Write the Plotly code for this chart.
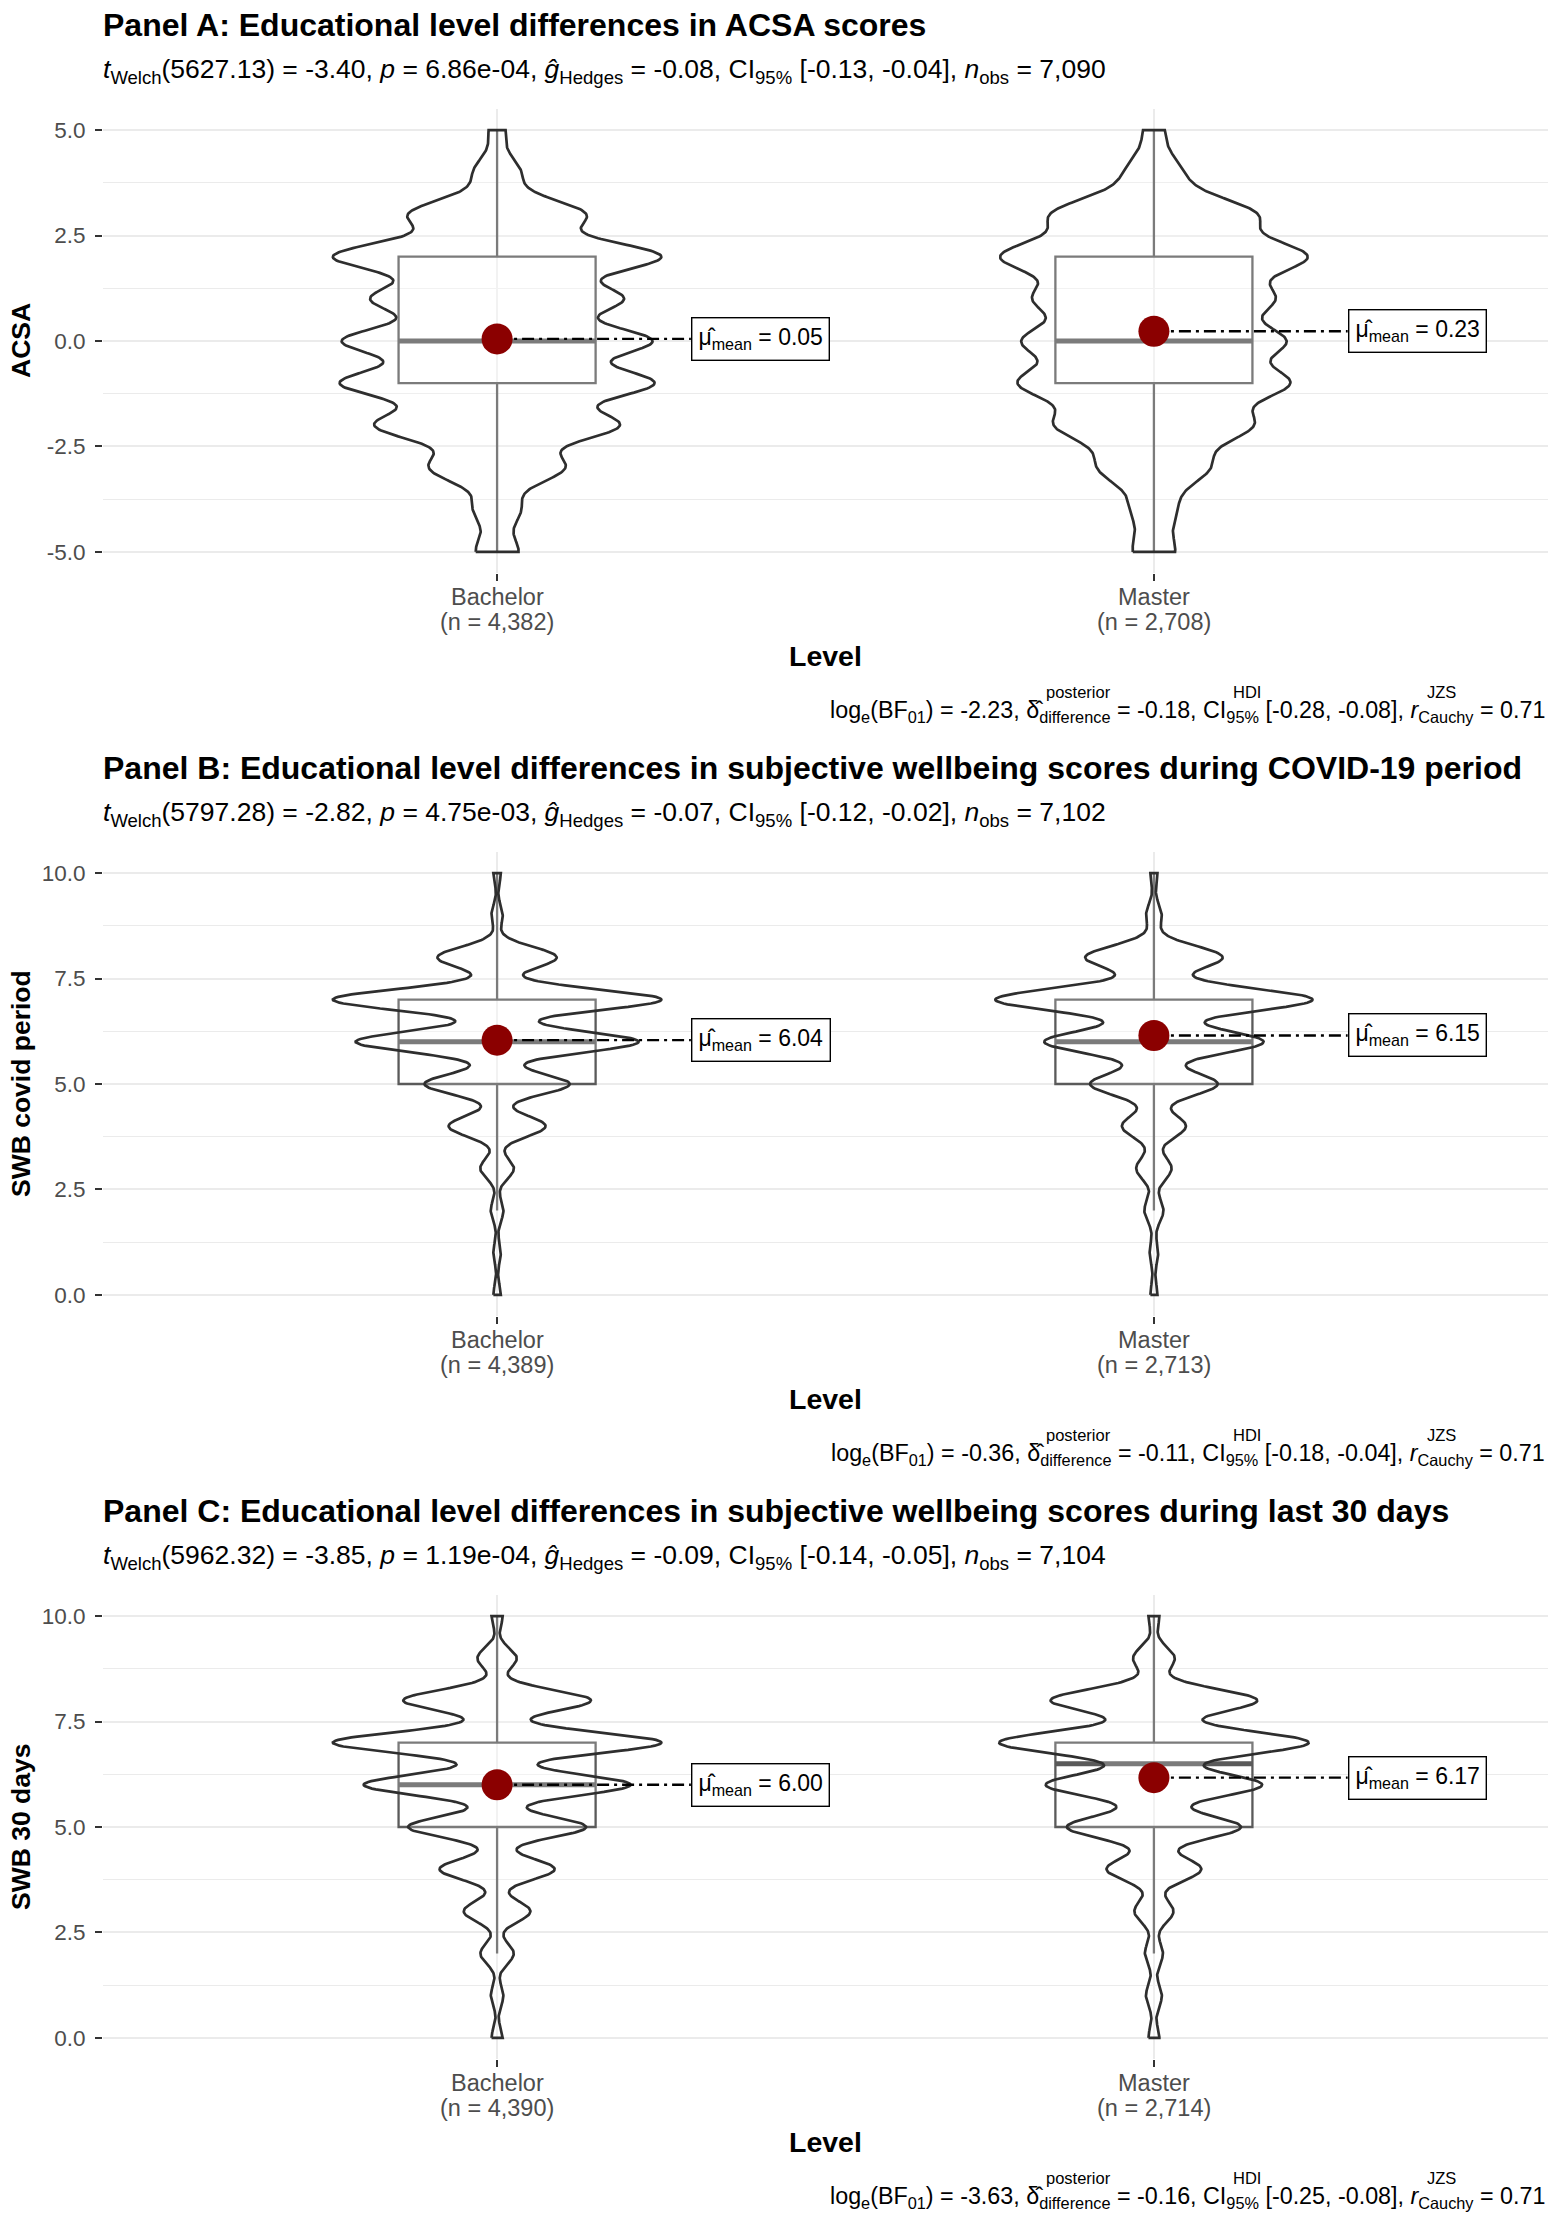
import numpy as np
import plotly.graph_objects as go

W, H = 1559, 2216
FONT = "Liberation Sans, Arial, Helvetica, sans-serif"

# ---------------- data ----------------
group_names = ["Bachelor", "Master"]
group_pos = [1, 2]

# Panel A: ACSA (integer scores -5..5), counts per score
acsa_values = [-5, -4, -3, -2, -1, 0, 1, 2, 3, 4, 5]
acsa_counts_bachelor = [99, 107, 310, 560, 719, 709, 571, 757, 405, 107, 38]
acsa_counts_master = [67, 67, 172, 304, 419, 403, 362, 478, 319, 85, 32]
acsa_n = [4382, 2708]
acsa_mean = [0.05, 0.23]
acsa_q1 = [-1, -1]
acsa_median = [0, 0]
acsa_q3 = [2, 2]
acsa_whisker_low = [-5, -5]
acsa_whisker_high = [5, 5]

# Panel B: SWB covid period (0..10)
swb_values = [0, 1, 2, 3, 4, 5, 6, 7, 8, 9, 10]
covid_counts_bachelor = [31, 31, 53, 140, 404, 605, 1180, 1370, 497, 47, 31]
covid_counts_master = [20, 24, 54, 100, 181, 361, 621, 899, 389, 44, 20]
covid_n = [4389, 2713]
covid_mean = [6.04, 6.15]
covid_q1 = [5, 5]
covid_median = [6, 6]
covid_q3 = [7, 7]
covid_whisker_low = [2, 2]
covid_whisker_high = [10, 10]

# Panel C: SWB 30 days (0..10)
days_counts_bachelor = [39, 44, 117, 234, 404, 625, 937, 1154, 659, 138, 39]
days_counts_master = [26, 38, 43, 93, 226, 415, 516, 739, 493, 99, 26]
days_n = [4390, 2714]
days_mean = [6.00, 6.17]
days_q1 = [5, 5]
days_median = [6, 6.5]
days_q3 = [7, 7]
days_whisker_low = [2, 2]
days_whisker_high = [10, 10]

acsa_ticks = [-5, -2.5, 0, 2.5, 5]
acsa_ticklabels = ["-5.0", "-2.5", "0.0", "2.5", "5.0"]
swb_ticks = [0, 2.5, 5, 7.5, 10]
swb_ticklabels = ["0.0", "2.5", "5.0", "7.5", "10.0"]

titles = [
    "Panel A: Educational level differences in ACSA scores",
    "Panel B: Educational level differences in subjective wellbeing scores during COVID-19 period",
    "Panel C: Educational level differences in subjective wellbeing scores during last 30 days",
]
subtitles = [
    "<i>t</i><sub>Welch</sub>(5627.13) = -3.40, <i>p</i> = 6.86e-04, <i>g\u0302</i><sub>Hedges</sub> = -0.08, CI<sub>95%</sub> [-0.13, -0.04], <i>n</i><sub>obs</sub> = 7,090",
    "<i>t</i><sub>Welch</sub>(5797.28) = -2.82, <i>p</i> = 4.75e-03, <i>g\u0302</i><sub>Hedges</sub> = -0.07, CI<sub>95%</sub> [-0.12, -0.02], <i>n</i><sub>obs</sub> = 7,102",
    "<i>t</i><sub>Welch</sub>(5962.32) = -3.85, <i>p</i> = 1.19e-04, <i>g\u0302</i><sub>Hedges</sub> = -0.09, CI<sub>95%</sub> [-0.14, -0.05], <i>n</i><sub>obs</sub> = 7,104",
]
captions = [
    "log<sub>e</sub>(BF<sub>01</sub>) = -2.23, \u03b4\u0302<sub>difference</sub> = -0.18, CI<sub>95%</sub> [-0.28, -0.08], <i>r</i><sub>Cauchy</sub> = 0.71",
    "log<sub>e</sub>(BF<sub>01</sub>) = -0.36, \u03b4\u0302<sub>difference</sub> = -0.11, CI<sub>95%</sub> [-0.18, -0.04], <i>r</i><sub>Cauchy</sub> = 0.71",
    "log<sub>e</sub>(BF<sub>01</sub>) = -3.63, \u03b4\u0302<sub>difference</sub> = -0.16, CI<sub>95%</sub> [-0.25, -0.08], <i>r</i><sub>Cauchy</sub> = 0.71",
]
caption_sups = ["posterior", "HDI", "JZS"]
y_titles = ["ACSA", "SWB covid period", "SWB 30 days"]
x_title = "Level"

panels = [
    dict(values=acsa_values, counts=[acsa_counts_bachelor, acsa_counts_master], n=acsa_n,
         mean=acsa_mean, q1=acsa_q1, med=acsa_median, q3=acsa_q3,
         lo=acsa_whisker_low, hi=acsa_whisker_high, ticks=acsa_ticks, ticklabels=acsa_ticklabels,
         yrange=[-5.5, 5.5], top=109, bottom=573),
    dict(values=swb_values, counts=[covid_counts_bachelor, covid_counts_master], n=covid_n,
         mean=covid_mean, q1=covid_q1, med=covid_median, q3=covid_q3,
         lo=covid_whisker_low, hi=covid_whisker_high, ticks=swb_ticks, ticklabels=swb_ticklabels,
         yrange=[-0.5, 10.5], top=852, bottom=1316),
    dict(values=swb_values, counts=[days_counts_bachelor, days_counts_master], n=days_n,
         mean=days_mean, q1=days_q1, med=days_median, q3=days_q3,
         lo=days_whisker_low, hi=days_whisker_high, ticks=swb_ticks, ticklabels=swb_ticklabels,
         yrange=[-0.5, 10.5], top=1595, bottom=2059),
]

# ---------------- helpers ----------------
X_LEFT, X_RIGHT = 103, 1548
BOX_W = 0.3
VIOLIN_W = 0.5
LABEL_OFFSET = 0.295
SUP_X = [1044, 1231, 1425]


def px(x):
    return x / W


def py(y):
    return 1 - y / H


def kde(values, counts):
    data = np.repeat(np.asarray(values, float), counts)
    n = data.size
    sd = data.std(ddof=1)
    iqr = np.subtract(*np.percentile(data, [75, 25]))
    bw = 0.9 * min(sd, iqr / 1.34) * n ** -0.2
    grid = np.linspace(data.min(), data.max(), 512)
    v = np.asarray(values, float)
    c = np.asarray(counts, float)
    dens = (c[None, :] * np.exp(-0.5 * ((grid[:, None] - v[None, :]) / bw) ** 2)).sum(1)
    dens /= n * bw * np.sqrt(2 * np.pi)
    return grid, dens


fig = go.Figure()
annotations = []
layout_axes = {}

VIOLIN_COLOR = "#2E2E2E"
BOX_COLOR = "#5A5A5A"
TICK_COLOR = "#4D4D4D"

for i, p in enumerate(panels):
    sfx = "" if i == 0 else str(i + 1)
    xa, ya = "x" + sfx, "y" + sfx

    dens_list = [kde(p["values"], cts) for cts in p["counts"]]
    dmax = max(d.max() for _, d in dens_list)

    for g in range(2):
        c = group_pos[g]
        # box
        fig.add_trace(go.Box(
            x=[c], q1=[p["q1"][g]], median=[p["med"][g]], q3=[p["q3"][g]],
            lowerfence=[p["lo"][g]], upperfence=[p["hi"][g]],
            width=BOX_W, whiskerwidth=0, boxpoints=False,
            line=dict(color=BOX_COLOR, width=2.3), fillcolor="rgba(255,255,255,0.2)",
            xaxis=xa, yaxis=ya, showlegend=False, hoverinfo="skip"))
        # thick median
        fig.add_trace(go.Scatter(
            x=[c - BOX_W / 2, c + BOX_W / 2], y=[p["med"][g]] * 2, mode="lines",
            line=dict(color=BOX_COLOR, width=5), xaxis=xa, yaxis=ya,
            showlegend=False, hoverinfo="skip"))
        # violin
        grid, d = dens_list[g]
        half = (VIOLIN_W / 2) * d / dmax
        vx = np.concatenate([c - half, (c + half)[::-1], [c - half[0]]])
        vy = np.concatenate([grid, grid[::-1], [grid[0]]])
        fig.add_trace(go.Scatter(
            x=vx, y=vy, mode="lines", fill="toself", fillcolor="rgba(255,255,255,0.2)",
            line=dict(color=VIOLIN_COLOR, width=2.7), xaxis=xa, yaxis=ya,
            showlegend=False, hoverinfo="skip"))
        # mean segment
        fig.add_trace(go.Scatter(
            x=[c, c + LABEL_OFFSET], y=[p["mean"][g]] * 2, mode="lines",
            line=dict(color="black", width=2.4, dash="12px,5px,3px,5px"), xaxis=xa, yaxis=ya,
            showlegend=False, hoverinfo="skip"))
        # mean point
        fig.add_trace(go.Scatter(
            x=[c], y=[p["mean"][g]], mode="markers",
            marker=dict(color="#8B0000", size=31), xaxis=xa, yaxis=ya,
            showlegend=False, hoverinfo="skip"))
        # label
        annotations.append(dict(
            x=c + LABEL_OFFSET, y=p["mean"][g], xref=xa, yref=ya,
            xanchor="left", yanchor="middle", showarrow=False,
            text="\u03bc\u0302<sub>mean</sub> = %.2f" % p["mean"][g],
            font=dict(family=FONT, size=23, color="black"),
            bgcolor="white", bordercolor="black", borderwidth=1.4, borderpad=6))
        # category tick labels (two lines)
        annotations.append(dict(
            x=c, y=py(p["bottom"] + 24), xref=xa, yref="paper",
            xanchor="center", yanchor="middle", showarrow=False,
            text=group_names[g], font=dict(family=FONT, size=23.5, color=TICK_COLOR)))
        annotations.append(dict(
            x=c, y=py(p["bottom"] + 49), xref=xa, yref="paper",
            xanchor="center", yanchor="middle", showarrow=False,
            text="(n = %s)" % format(p["n"][g], ","),
            font=dict(family=FONT, size=23.5, color=TICK_COLOR)))

    ydom = [py(p["bottom"]), py(p["top"])]
    layout_axes["xaxis" + sfx] = dict(
        domain=[px(X_LEFT), px(X_RIGHT)], range=[0.4, 2.6], anchor=ya,
        tickvals=group_pos, showticklabels=False,
        ticks="outside", ticklen=7, tickwidth=2, tickcolor="#333333",
        showgrid=True, gridcolor="#EBEBEB", gridwidth=1.6,
        zeroline=False, showline=False, fixedrange=True)
    layout_axes["yaxis" + sfx] = dict(
        domain=ydom, range=p["yrange"], anchor=xa,
        tickvals=p["ticks"], ticktext=p["ticklabels"],
        tickfont=dict(family=FONT, size=22.5, color=TICK_COLOR),
        ticks="outside", ticklen=7, tickwidth=2, tickcolor="#333333",
        ticklabelstandoff=5,
        showgrid=True, gridcolor="#EBEBEB", gridwidth=1.6,
        minor=dict(dtick=1.25, tick0=0, showgrid=True, gridcolor="#EBEBEB", gridwidth=1.1, ticks=""),
        zeroline=False, showline=False, fixedrange=True)

    # title / subtitle
    annotations.append(dict(
        x=px(101), y=py(p["top"] - 84), xref="paper", yref="paper",
        xanchor="left", yanchor="middle", showarrow=False,
        text="<b>%s</b>" % titles[i], font=dict(family=FONT, size=32, color="black")))
    annotations.append(dict(
        x=px(101), y=py(p["top"] - 38), xref="paper", yref="paper",
        xanchor="left", yanchor="middle", showarrow=False,
        text=subtitles[i], font=dict(family=FONT, size=26.5, color="black")))
    # y title
    annotations.append(dict(
        x=px(21), y=(ydom[0] + ydom[1]) / 2, xref="paper", yref="paper",
        xanchor="center", yanchor="middle", showarrow=False, textangle=-90,
        text="<b>%s</b>" % y_titles[i], font=dict(family=FONT, size=26.5, color="black")))
    # x title
    annotations.append(dict(
        x=px((X_LEFT + X_RIGHT) / 2), y=py(p["bottom"] + 83), xref="paper", yref="paper",
        xanchor="center", yanchor="middle", showarrow=False,
        text="<b>%s</b>" % x_title, font=dict(family=FONT, size=28.5, color="black")))
    # caption
    annotations.append(dict(
        x=px(1547), y=py(p["bottom"] + 138), xref="paper", yref="paper",
        xanchor="right", yanchor="middle", showarrow=False,
        text=captions[i], font=dict(family=FONT, size=23.3, color="black")))
    for sx, s in zip(SUP_X, caption_sups):
        annotations.append(dict(
            x=px(sx), y=py(p["bottom"] + 119), xref="paper", yref="paper",
            xanchor="left", yanchor="middle", showarrow=False,
            text=s, font=dict(family=FONT, size=16.5, color="black")))

fig.update_layout(
    width=W, height=H, margin=dict(l=0, r=0, t=0, b=0),
    paper_bgcolor="white", plot_bgcolor="white",
    showlegend=False, annotations=annotations,
    font=dict(family=FONT), **layout_axes)

fig.write_html("out.html", config={"displayModeBar": False},
               post_script="document.body.style.margin='0';document.body.style.overflow='hidden';")
